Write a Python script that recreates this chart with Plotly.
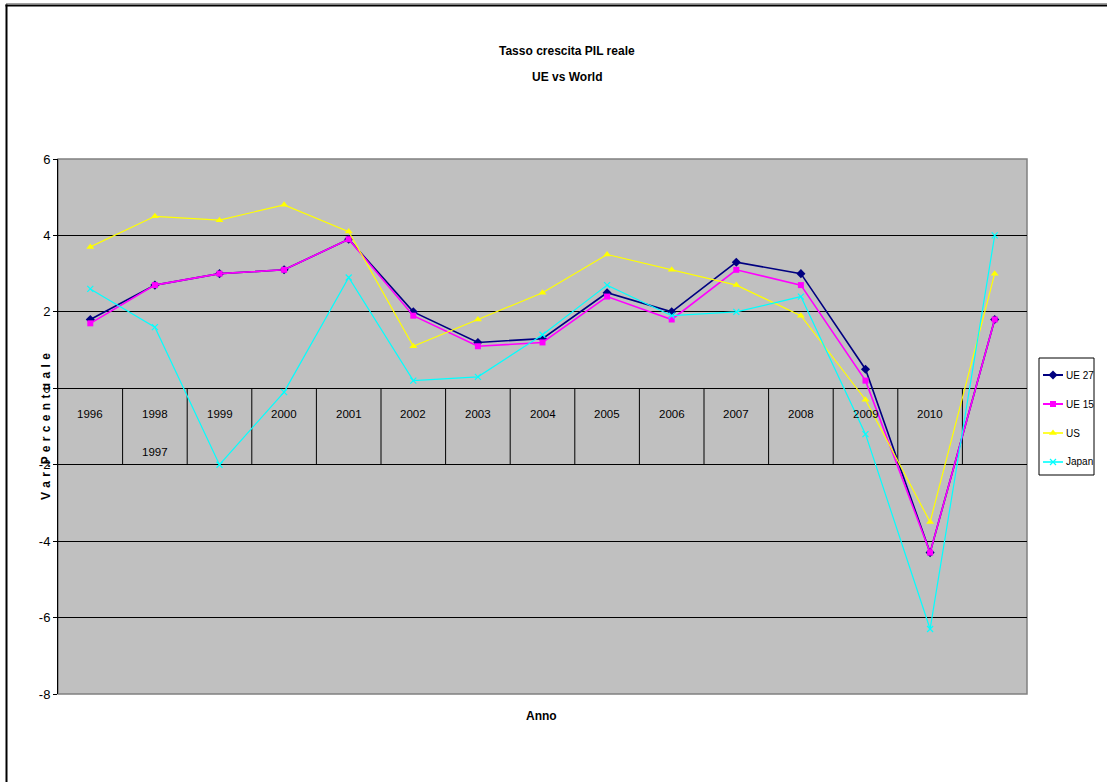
import plotly.graph_objects as go

# Real GDP growth rate (% change), one point per category slot
slots = list(range(15))
ue27 = [1.8, 2.7, 3.0, 3.1, 3.9, 2.0, 1.2, 1.3, 2.5, 2.0, 3.3, 3.0, 0.5, -4.3, 1.8]
ue15 = [1.7, 2.7, 3.0, 3.1, 3.9, 1.9, 1.1, 1.2, 2.4, 1.8, 3.1, 2.7, 0.2, -4.3, 1.8]
us = [3.7, 4.5, 4.4, 4.8, 4.1, 1.1, 1.8, 2.5, 3.5, 3.1, 2.7, 1.9, -0.3, -3.5, 3.0]
japan = [2.6, 1.6, -2.0, -0.1, 2.9, 0.2, 0.3, 1.4, 2.7, 1.9, 2.0, 2.4, -1.2, -6.3, 4.0]

# Category labels as they appear along the axis (first row, then second row)
row1_labels = ["1996", "1998", "1999", "2000", "2001", "2002", "2003", "2004",
               "2005", "2006", "2007", "2008", "2009", "2010", ""]
row2_labels = ["", "1997", "", "", "", "", "", "", "", "", "", "", "", "", ""]

# Value-axis ticks (plain hyphen for negatives)
y_ticks = [-8, -6, -4, -2, 0, 2, 4, 6]
y_tick_text = ["-8", "-6", "-4", "-2", "0", "2", "4", "6"]

FONT = "Liberation Sans Narrow, Arial Narrow, Liberation Sans, Arial, sans-serif"
W, H = 1107, 782


def px(x):
    return x / W


def py(y):
    return 1 - y / H


fig = go.Figure()

series = [
    ("UE 27", ue27, "#000080", "diamond", 7, 1.6),
    ("UE 15", ue15, "#FF00FF", "square", 6, 1.6),
    ("US", us, "#FFFF00", "triangle-up", 7, 1.2),
    ("Japan", japan, "#00FFFF", "x-thin-open", 6, 1.2),
]


def marker_for(sym, size, color):
    m = dict(symbol=sym, size=size, color=color)
    if sym == "x-thin-open":
        m["line"] = dict(color=color, width=1.2)
    return m


for name, vals, color, sym, size, lw in series:
    fig.add_trace(go.Scatter(
        x=slots, y=vals, name=name, mode="lines+markers",
        line=dict(color=color, width=lw), marker=marker_for(sym, size, color),
        showlegend=False,
    ))

# Boxed key on the right: an overlay axis in pixel units holds the sample glyphs
key_rows = [375, 404, 433, 462]
annotations = []
for (name, vals, color, sym, size, lw), ky in zip(series, key_rows):
    fig.add_trace(go.Scatter(
        x=[1043, 1063], y=[ky, ky], mode="lines", line=dict(color=color, width=lw + 0.4),
        xaxis="x2", yaxis="y2", showlegend=False, hoverinfo="skip",
    ))
    fig.add_trace(go.Scatter(
        x=[1053], y=[ky], mode="markers", marker=marker_for(sym, size, color),
        xaxis="x2", yaxis="y2", showlegend=False, hoverinfo="skip",
    ))
    annotations.append(dict(x=px(1064), y=py(ky), xref="paper", yref="paper",
                            xanchor="left", text=name, showarrow=False,
                            font=dict(family=FONT, size=10, color="#000")))

shapes = []
# Grey plot-area background
shapes.append(dict(type="rect", xref="x domain", yref="y domain", x0=0, x1=1, y0=0, y1=1,
                   fillcolor="#C0C0C0", line=dict(width=0), layer="below"))
# Category separators hanging below the zero axis
for i in range(14):
    shapes.append(dict(type="line", xref="x", yref="y", x0=i + 0.5, x1=i + 0.5,
                       y0=0, y1=-2, line=dict(color="#000000", width=1), layer="below"))
# Plot-area frame (grey) on top, right and bottom
shapes.append(dict(type="rect", xref="x domain", yref="y domain", x0=0, x1=1, y0=0, y1=1,
                   line=dict(color="#808080", width=1.5), layer="below"))
# Key box
shapes.append(dict(type="rect", xref="paper", yref="paper",
                   x0=px(1039), x1=px(1094), y0=py(475), y1=py(358),
                   line=dict(color="#000000", width=1), fillcolor="#FFFFFF", layer="below"))
# Outer chart frame (top and left edges)
shapes.append(dict(type="line", xref="paper", yref="paper",
                   x0=px(6), x1=1, y0=py(3.5), y1=py(3.5),
                   line=dict(color="#A0A0A0", width=1)))
shapes.append(dict(type="line", xref="paper", yref="paper",
                   x0=px(5.5), x1=1, y0=py(5.5), y1=py(5.5),
                   line=dict(color="#000000", width=2)))
shapes.append(dict(type="line", xref="paper", yref="paper",
                   x0=px(6.5), x1=px(6.5), y0=0, y1=py(4.5),
                   line=dict(color="#000000", width=2)))

for i, lab in enumerate(row1_labels):
    if lab:
        annotations.append(dict(x=i, y=-0.68, xref="x", yref="y", text=lab,
                                showarrow=False, font=dict(family=FONT, size=11.5, color="#000")))
for i, lab in enumerate(row2_labels):
    if lab:
        annotations.append(dict(x=i, y=-1.68, xref="x", yref="y", text=lab,
                                showarrow=False, font=dict(family=FONT, size=11.5, color="#000")))

y_title = "V a r .P e r c e n t u a l e".replace(" ", " \u200a")
annotations += [
    dict(text="<b>Tasso crescita PIL reale</b>", xref="paper", yref="paper",
         x=px(567), y=py(42), showarrow=False, font=dict(family=FONT, size=12, color="#000")),
    dict(text="<b>UE vs World</b>", xref="paper", yref="paper",
         x=px(567), y=py(68), showarrow=False, font=dict(family=FONT, size=12, color="#000")),
    dict(text="<b>Anno</b>", xref="paper", yref="paper",
         x=px(541), y=py(725), showarrow=False, font=dict(family=FONT, size=12, color="#000")),
    dict(text="<b>" + y_title + "</b>", xref="paper", yref="paper",
         x=px(37), y=py(427), textangle=-90, showarrow=False,
         font=dict(family=FONT, size=12, color="#000")),
]

fig.update_layout(
    width=W, height=H,
    margin=dict(l=0, r=0, t=0, b=0, autoexpand=False),
    paper_bgcolor="#FFFFFF", plot_bgcolor="rgba(0,0,0,0)",
    font=dict(family=FONT, size=12, color="#000"),
    showlegend=False,
    shapes=shapes, annotations=annotations,
    xaxis=dict(domain=[px(58), px(1027)], range=[-0.5, 14.5], showgrid=False,
               zeroline=False, showticklabels=False, ticks="", showline=False,
               fixedrange=True),
    yaxis=dict(domain=[py(694), py(159)], range=[-8, 6], tickmode="array",
               tickvals=y_ticks, ticktext=y_tick_text,
               showgrid=True, gridcolor="#000000", gridwidth=1,
               zeroline=True, zerolinecolor="#000000", zerolinewidth=1,
               showline=True, linecolor="#000000", linewidth=1,
               ticks="outside", ticklen=4, tickcolor="#000000",
               tickfont=dict(family=FONT, size=13, color="#000")),
    xaxis2=dict(domain=[0, 1], range=[0, W], visible=False, anchor="y2", fixedrange=True),
    yaxis2=dict(domain=[0, 1], range=[H, 0], visible=False, anchor="x2", fixedrange=True),
)

fig.write_html("out.html")
